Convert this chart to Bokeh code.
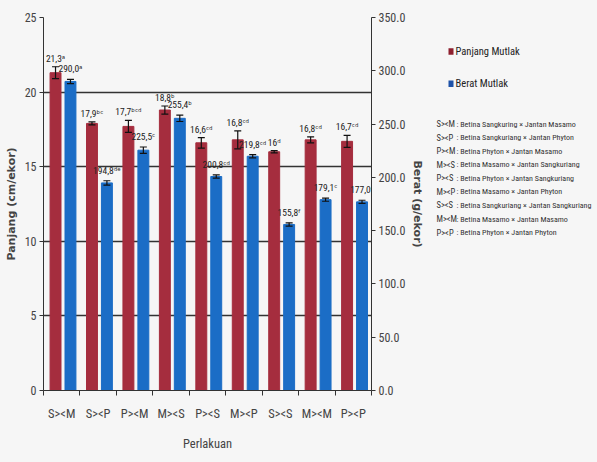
from bokeh.plotting import figure
from bokeh.models import (ColumnDataSource, Range1d, LinearAxis, FixedTicker,
                          NumeralTickFormatter, Whisker, TeeHead)
from bokeh.layouts import row
from bokeh.core.properties import value
from bokeh.embed import file_html
from bokeh.resources import INLINE

# ---------------- data ----------------
perlakuan = ["S><M", "S><P", "P><M", "M><S", "P><S", "M><P", "S><S", "M><M", "P><P"]
panjang = [21.3, 17.9, 17.7, 18.8, 16.6, 16.8, 16.0, 16.8, 16.7]
panjang_err = [0.4, 0.1, 0.4, 0.27, 0.35, 0.6, 0.08, 0.2, 0.4]
panjang_notasi = ["a", "bc", "bcd", "b", "cd", "cd", "d", "cd", "cd"]
berat = [290.0, 194.8, 225.5, 255.4, 200.8, 219.8, 155.8, 179.1, 177.0]
berat_err = [2.0, 2.0, 3.0, 3.0, 1.5, 1.5, 1.5, 1.5, 1.5]
berat_notasi = ["a", "de", "c", "b", "cd", "cd", "f", "c", "c"]
series_names = ["Panjang Mutlak", "Berat Mutlak"]
kode = ["S><M", "S><P", "P><M", "M><S", "P><S", "M><P", "S><S", "M><M", "P><P"]
keterangan = [
    "Betina Sangkuring \u00d7 Jantan Masamo",
    "Betina Sangkuriang \u00d7 Jantan Phyton",
    "Betina Phyton \u00d7 Jantan Masamo",
    "Betina Masamo \u00d7 Jantan Sangkuriang",
    "Betina Phyton \u00d7 Jantan Sangkuriang",
    "Betina Masamo \u00d7 Jantan Phyton",
    "Betina Sangkuriang \u00d7 Jantan Sangkuriang",
    "Betina Masamo \u00d7 Jantan Masamo",
    "Betina Phyton \u00d7 Jantan Phyton",
]
left_ticks = [0, 5, 10, 15, 20, 25]
right_ticks = [0, 50, 100, 150, 200, 250, 300, 350]

# ---------------- style ----------------
RED = "#a52d3e"
BLUE = "#1b6dc6"
RED_KEY = "#8e1f2e"
BLUE_KEY = "#1f52a8"
BG = "#f6f6f6"
INK = "#333333"
NARROW = "Liberation Sans Narrow, Roboto Condensed, DejaVu Sans Condensed, sans-serif"
BOLD = "DejaVu Sans"
SUP = {"a": "\u1d43", "b": "\u1d47", "c": "\u1d9c", "d": "\u1d48", "e": "\u1d49", "f": "\u1da0"}
W1 = 427
W2 = 597 - W1


def sup(s):
    return "".join(SUP[c] for c in s)


n = len(perlakuan)
centers = [i + 0.5 for i in range(n)]
red_x = [c - 0.17 for c in centers]
blue_x = [c + 0.24 for c in centers]

red_src = ColumnDataSource(dict(
    x=red_x, top=panjang,
    upper=[v + e for v, e in zip(panjang, panjang_err)],
    lower=[v - e for v, e in zip(panjang, panjang_err)],
    label=[f"{v:g}".replace(".", ",") + sup(s) for v, s in zip(panjang, panjang_notasi)],
))
blue_src = ColumnDataSource(dict(
    x=blue_x, top=berat,
    upper=[v + e for v, e in zip(berat, berat_err)],
    lower=[v - e for v, e in zip(berat, berat_err)],
    label=[f"{v:.1f}".replace(".", ",") + sup(s) for v, s in zip(berat, berat_notasi)],
))

p = figure(width=W1, height=462, x_range=Range1d(0, n), y_range=Range1d(0, 25),
           output_backend="svg", toolbar_location=None,
           min_border_left=43, min_border_right=W1 - 372, min_border_top=17,
           min_border_bottom=72,
           background_fill_color=BG, border_fill_color=BG, outline_line_color=None,
           styles={"background-color": BG})
p.extra_y_ranges = {"berat": Range1d(0, 350)}

# bars
p.vbar(x="x", top="top", width=0.3, source=red_src, fill_color=RED, line_color=RED)
p.vbar(x="x", top="top", width=0.3, source=blue_src, fill_color=BLUE, line_color=BLUE,
       y_range_name="berat")

# error bars
for src, rng in ((red_src, "default"), (blue_src, "berat")):
    w = Whisker(base="x", upper="upper", lower="lower", source=src, y_range_name=rng,
                line_color="#111111", line_width=1.2, level="overlay",
                upper_head=TeeHead(size=7, line_color="#111111", line_width=1.2),
                lower_head=TeeHead(size=7, line_color="#111111", line_width=1.2))
    p.add_layout(w)

# value labels
p.text(x="x", y="upper", text="label", source=red_src, text_align="center",
       text_baseline="bottom", y_offset=-3, text_font=value(NARROW),
       text_font_size="9.5px", text_color="#222222")
p.text(x="x", y="upper", text="label", source=blue_src, text_align="center",
       text_baseline="bottom", y_offset=-5, text_font=value(NARROW),
       text_font_size="9.5px", text_color="#222222", y_range_name="berat")

# grid
p.xgrid.grid_line_color = None
p.ygrid.grid_line_color = INK
p.ygrid.grid_line_width = 1.5

# left axis
p.yaxis.ticker = FixedTicker(ticks=left_ticks)
p.yaxis.axis_label = "Panjang (cm/ekor)"
p.yaxis.axis_label_text_font = BOLD
p.yaxis.axis_label_text_font_style = "bold"
p.yaxis.axis_label_text_font_size = "11px"
p.yaxis.axis_label_standoff = 4
p.yaxis.major_label_text_font = NARROW
p.yaxis.major_label_text_font_size = "12px"
p.yaxis.major_label_standoff = 3
p.yaxis.major_tick_out = 4
p.yaxis.major_tick_in = 0
p.yaxis.minor_tick_line_color = None
p.yaxis.axis_line_color = INK
p.yaxis.major_tick_line_color = INK

# right axis
ra = LinearAxis(y_range_name="berat", ticker=FixedTicker(ticks=right_ticks),
                formatter=NumeralTickFormatter(format="0.0"),
                axis_label="Berat (g/ekor)")
ra.axis_label_text_font = BOLD
ra.axis_label_text_font_style = "bold"
ra.axis_label_text_font_size = "11px"
ra.axis_label_standoff = 3
ra.major_label_text_font = NARROW
ra.major_label_text_font_size = "12px"
ra.major_label_standoff = 3
ra.major_tick_out = 4
ra.major_tick_in = 0
ra.axis_line_color = INK
ra.major_tick_line_color = INK
p.add_layout(ra, "right")

# bottom axis: labels at category centres, ticks at boundaries
xa = p.xaxis[0]
xa.ticker = FixedTicker(ticks=centers, minor_ticks=list(range(n + 1)))
xa.major_label_overrides = {c: lab for c, lab in zip(centers, perlakuan)}
xa.major_tick_out = 0
xa.major_tick_in = 0
xa.minor_tick_out = 5
xa.minor_tick_in = 0
xa.minor_tick_line_color = INK
xa.major_label_standoff = 10
xa.major_label_text_font = NARROW
xa.major_label_text_font_size = "12.5px"
xa.axis_label = "Perlakuan"
xa.axis_label_text_font = NARROW
xa.axis_label_text_font_style = "normal"
xa.axis_label_text_font_size = "12.5px"
xa.axis_label_standoff = 12
xa.axis_line_color = INK

# ---------------- key panel (coordinates = page pixels) ----------------
q = figure(width=W2, height=462, x_range=Range1d(W1, 597), y_range=Range1d(462, 0),
           output_backend="svg", toolbar_location=None, min_border=0,
           background_fill_color=BG, border_fill_color=BG, outline_line_color=None,
           styles={"background-color": BG})
q.axis.visible = False
q.grid.visible = False

key_y = [42 + 40 * i for i in range(len(series_names))]
q.rect(x=[450.5] * 2, y=key_y, width=5, height=8, fill_color=[RED_KEY, BLUE_KEY],
       line_color=None)
q.text(x=[455] * 2, y=key_y, text=series_names, text_baseline="middle",
       text_font=value(NARROW), text_font_size="10.5px", text_color="#222222")

row_y = [132 + 16.8 * i for i in range(len(kode))]
q.text(x=[436] * len(kode), y=row_y, text=kode, text_baseline="middle",
       text_font=value(NARROW), text_font_size="8.5px", text_color=INK)
q.text(x=[456] * len(kode), y=row_y, text=[": " + d for d in keterangan],
       text_baseline="middle", text_font=value(NARROW), text_font_size="8px",
       text_color=INK)

layout = row(p, q, styles={"background-color": BG})
open("out.html", "w").write(file_html(layout, INLINE))
